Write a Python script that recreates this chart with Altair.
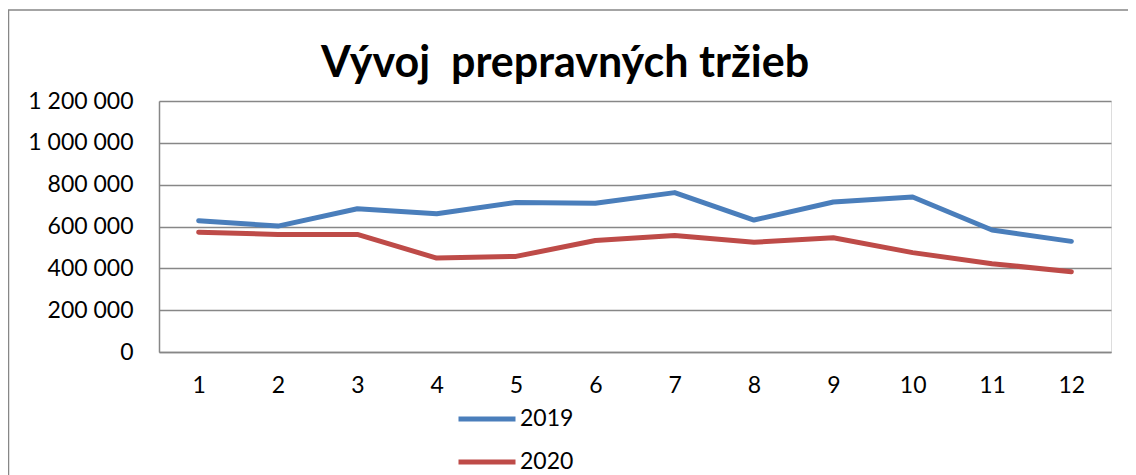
import altair as alt
import pandas as pd

months = list(range(1, 13))
sales_2019 = [628000, 602000, 685000, 661000, 715000, 711000, 762000, 631000, 717000, 741000, 583000, 529000]
sales_2020 = [573000, 562000, 562000, 449000, 457000, 533000, 557000, 525000, 546000, 475000, 422000, 384000]
years = ["2019", "2020"]
y_ticks = [0, 200000, 400000, 600000, 800000, 1000000, 1200000]
title_text = "Vývoj\u00a0 prepravných tržieb"

rows = []
for yr, vals in zip(years, [sales_2019, sales_2020]):
    for m, v in zip(months, vals):
        rows.append({"mesiac": m, "rok": yr, "trzby": v})
df = pd.DataFrame(rows)

FONT = "Lato"
GRAY = "#878787"

frame = alt.Chart(pd.DataFrame({"a": [0]})).mark_rect(
    fill=None, stroke=GRAY, strokeWidth=1.5, clip=False
).encode(
    x=alt.value(-150.5), x2=alt.value(1100), y=alt.value(-91), y2=alt.value(500)
)

lines = alt.Chart(df).mark_line(strokeWidth=5, strokeCap="round", strokeJoin="round").encode(
    x=alt.X("mesiac:O", title=None,
            axis=alt.Axis(labelAngle=0, ticks=False, domainColor=GRAY, domainWidth=1.5,
                          labelFontSize=23, labelFont=FONT, labelColor="#000", labelPadding=22, grid=False)),
    y=alt.Y("trzby:Q", title=None,
            scale=alt.Scale(domain=[0, 1200000], nice=False),
            axis=alt.Axis(values=y_ticks, ticks=False, domainColor=GRAY, domainWidth=1.5,
                          gridColor=GRAY, gridWidth=1.5, gridOpacity=1,
                          labelFontSize=23, labelFont=FONT, labelColor="#000", labelPadding=26,
                          labelExpr="replace(format(datum.value, ','), regexp(',', 'g'), ' ')")),
    color=alt.Color("rok:N", scale=alt.Scale(domain=years, range=["#4A7EBB", "#BE4B48"]),
                    legend=alt.Legend(orient="none", legendX=297, legendY=287, direction="vertical",
                                      title=None, symbolType="stroke", symbolStrokeWidth=5,
                                      symbolSize=3249, labelFontSize=23, labelFont=FONT,
                                      labelColor="#000", labelOffset=2, rowPadding=-16,
                                      symbolOpacity=1)),
)

title = alt.Chart(pd.DataFrame({"t": [title_text]})).mark_text(
    fontSize=43, fontWeight="bold", font=FONT, baseline="alphabetic", align="center", color="#000"
).encode(text="t:N", x=alt.value(406), y=alt.value(-24))

chart = alt.layer(frame, lines, title).properties(
    width=952, height=251,
    padding={"left": 151, "top": 93, "right": 17, "bottom": 123},
    autosize=alt.AutoSizeParams(type="none"),
).configure_view(stroke=None).configure(background="white")

chart.save("out.html", embed_options={"renderer": "svg", "actions": False})
